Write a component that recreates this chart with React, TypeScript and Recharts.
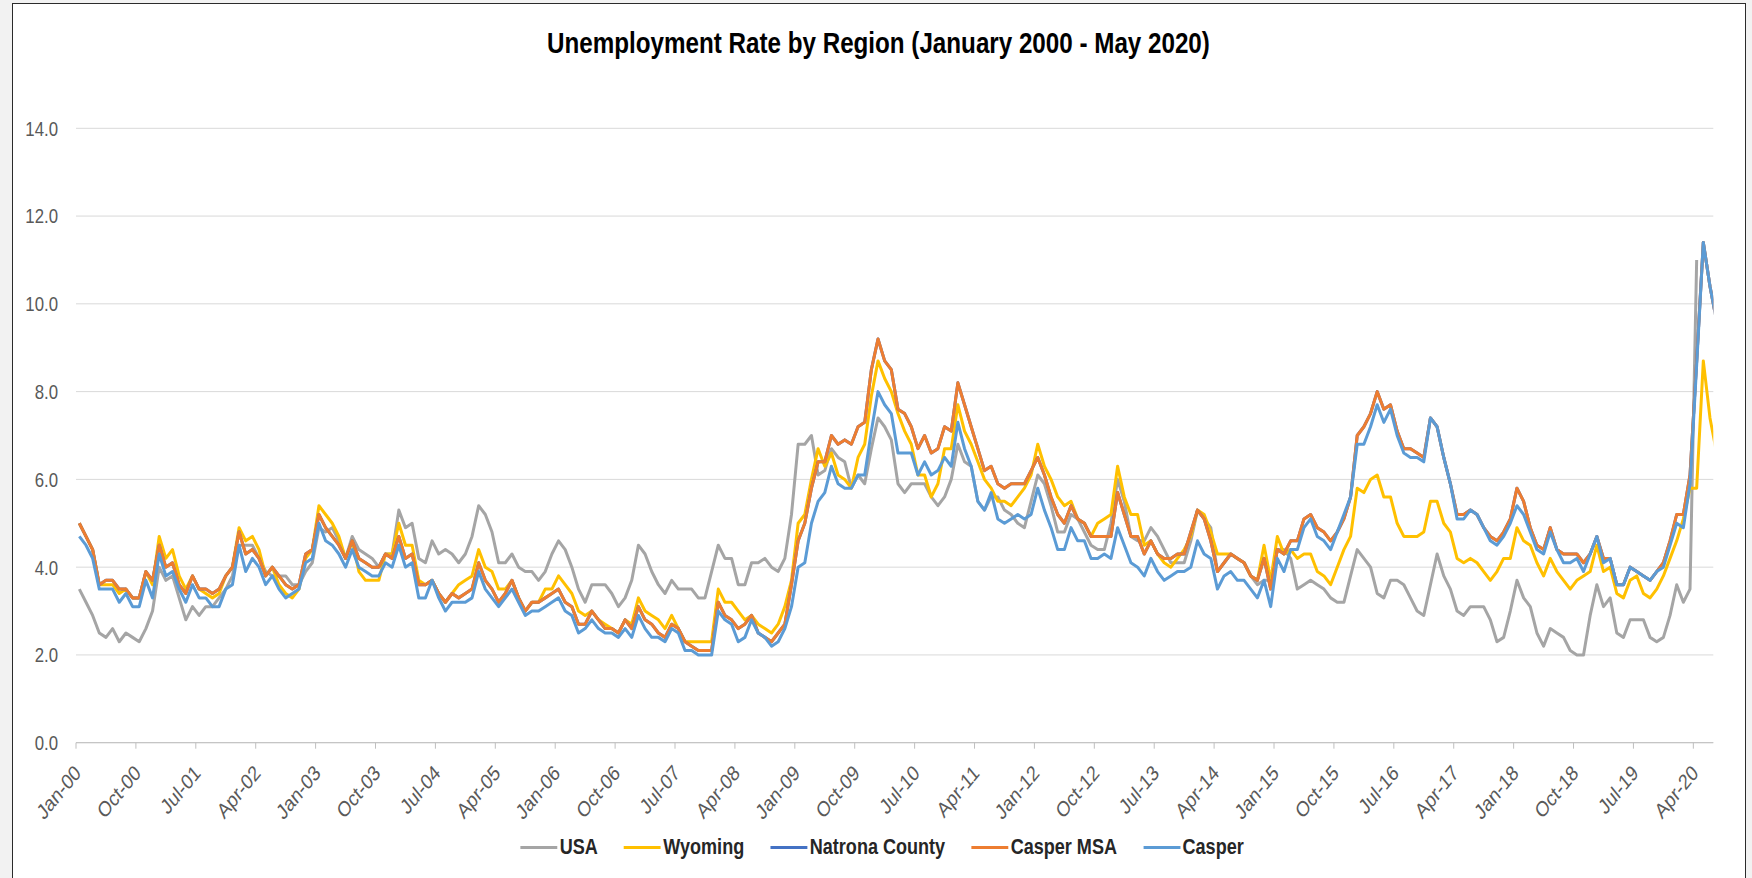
import React from 'react';
import { LineChart, Line, XAxis, YAxis, CartesianGrid, Legend } from 'recharts';

// ---- data (Jan-2000 onward, one value per month) ----
const usa: (number | null)[] = [
  3.5, 3.2, 2.9, 2.5, 2.4, 2.6, 2.3, 2.5, 2.4, 2.3, 2.6, 3.0,
  4.0, 3.7, 3.8, 3.3, 2.8, 3.1, 2.9, 3.1, 3.1, 3.3, 3.5, 3.8,
  4.5, 4.5, 4.5, 4.2, 3.9, 3.8, 3.8, 3.8, 3.6, 3.6, 3.9, 4.1,
  4.9, 4.8, 4.9, 4.6, 4.2, 4.7, 4.4, 4.3, 4.2, 4.0, 4.3, 4.3,
  5.3, 4.9, 5.0, 4.2, 4.1, 4.6, 4.3, 4.4, 4.3, 4.1, 4.3, 4.7,
  5.4, 5.2, 4.8, 4.1, 4.1, 4.3, 4.0, 3.9, 3.9, 3.7, 3.9, 4.3,
  4.6, 4.4, 4.0, 3.5, 3.2, 3.6, 3.6, 3.6, 3.4, 3.1, 3.3, 3.7,
  4.5, 4.3, 3.9, 3.6, 3.4, 3.7, 3.5, 3.5, 3.5, 3.3, 3.3, 3.9,
  4.5, 4.2, 4.2, 3.6, 3.6, 4.1, 4.1, 4.2, 4.0, 3.9, 4.2, 5.2,
  6.8, 6.8, 7.0, 6.1, 6.2, 6.7, 6.5, 6.4, 5.8, 6.1, 5.9, 6.7,
  7.4, 7.2, 6.9, 5.9, 5.7, 5.9, 5.9, 5.9, 5.6, 5.4, 5.6, 6.0,
  6.8, 6.4, 6.3, 5.5, 5.3, 5.6, 5.6, 5.3, 5.2, 5.0, 4.9, 5.5,
  6.1, 5.9, 5.4, 4.8, 4.8, 5.2, 5.1, 4.8, 4.5, 4.4, 4.4, 5.0,
  6.0, 5.5, 4.7, 4.6, 4.6, 4.9, 4.7, 4.4, 4.1, 4.1, 4.1, 4.6,
  5.3, 5.1, 4.9, 3.9, 4.1, 4.3, 4.2, 4.1, 3.8, 3.6, 3.7, 3.7,
  4.4, 4.4, 4.2, 3.5, 3.6, 3.7, 3.6, 3.5, 3.3, 3.2, 3.2, 3.8,
  4.4, 4.2, 4.0, 3.4, 3.3, 3.7, 3.7, 3.6, 3.3, 3.0, 2.9, 3.6,
  4.3, 3.8, 3.5, 3.0, 2.9, 3.1, 3.1, 3.1, 2.8, 2.3, 2.4, 3.0,
  3.7, 3.3, 3.1, 2.5, 2.2, 2.6, 2.5, 2.4, 2.1, 2.0, 2.0, 2.9,
  3.6, 3.1, 3.3, 2.5, 2.4, 2.8, 2.8, 2.8, 2.4, 2.3, 2.4, 2.9,
  3.6, 3.2, 3.5, 11.0, null, null, null,
];

const wyoming: number[] = [
  5.0, 4.7, 4.4, 3.6, 3.6, 3.6, 3.4, 3.5, 3.3, 3.3, 3.9, 3.6,
  4.7, 4.2, 4.4, 3.8, 3.5, 3.8, 3.5, 3.4, 3.3, 3.4, 3.8, 4.0,
  4.9, 4.6, 4.7, 4.4, 3.8, 4.0, 3.6, 3.4, 3.3, 3.5, 4.2, 4.4,
  5.4, 5.2, 5.0, 4.7, 4.2, 4.6, 3.9, 3.7, 3.7, 3.7, 4.3, 4.3,
  5.0, 4.5, 4.5, 3.7, 3.6, 3.7, 3.4, 3.2, 3.4, 3.6, 3.7, 3.8,
  4.4, 4.0, 3.9, 3.5, 3.5, 3.7, 3.3, 3.0, 3.2, 3.2, 3.5, 3.5,
  3.8, 3.6, 3.4, 3.0, 2.9, 3.0, 2.8, 2.7, 2.6, 2.5, 2.8, 2.7,
  3.3, 3.0, 2.9, 2.8, 2.6, 2.9, 2.6, 2.3, 2.3, 2.3, 2.3, 2.3,
  3.5, 3.2, 3.2, 3.0, 2.8, 2.9, 2.7, 2.6, 2.5, 2.7, 3.1, 3.7,
  5.0, 5.2, 6.0, 6.7, 6.3, 6.6, 6.1, 6.0, 5.8, 6.5, 6.8, 7.9,
  8.7, 8.3, 8.0, 7.5, 7.1, 6.8, 6.1, 6.1, 5.6, 5.9, 6.7, 6.7,
  7.7, 7.1, 6.8, 6.4, 6.0, 5.8, 5.5, 5.5, 5.4, 5.6, 5.8, 6.1,
  6.8, 6.3, 6.0, 5.6, 5.4, 5.5, 5.1, 5.0, 4.7, 5.0, 5.1, 5.2,
  6.3, 5.6, 5.2, 5.2, 4.5, 4.6, 4.3, 4.1, 4.0, 4.2, 4.4, 4.7,
  5.3, 5.2, 4.8, 4.3, 4.3, 4.3, 4.2, 4.1, 3.8, 3.7, 4.5, 3.7,
  4.7, 4.3, 4.4, 4.2, 4.3, 4.3, 3.9, 3.8, 3.6, 4.0, 4.4, 4.7,
  5.8, 5.7, 6.0, 6.1, 5.6, 5.6, 5.0, 4.7, 4.7, 4.7, 4.8, 5.5,
  5.5, 5.0, 4.8, 4.2, 4.1, 4.2, 4.1, 3.9, 3.7, 3.9, 4.2, 4.2,
  4.9, 4.6, 4.5, 4.1, 3.8, 4.2, 3.9, 3.7, 3.5, 3.7, 3.8, 3.9,
  4.5, 3.9, 4.0, 3.4, 3.3, 3.7, 3.8, 3.4, 3.3, 3.5, 3.8, 4.2,
  4.6, 5.1, 5.8, 5.8, 8.7, 7.4, 6.6,
];

const casperMSA: number[] = [
  5.0, 4.7, 4.4, 3.6, 3.7, 3.7, 3.5, 3.5, 3.3, 3.3, 3.9, 3.7,
  4.5, 4.0, 4.1, 3.6, 3.4, 3.8, 3.5, 3.5, 3.4, 3.5, 3.8, 4.0,
  4.8, 4.3, 4.4, 4.2, 3.8, 4.0, 3.8, 3.6, 3.5, 3.6, 4.3, 4.4,
  5.2, 4.9, 4.7, 4.5, 4.2, 4.6, 4.2, 4.1, 4.0, 4.0, 4.3, 4.2,
  4.7, 4.2, 4.3, 3.6, 3.6, 3.7, 3.4, 3.2, 3.4, 3.3, 3.4, 3.5,
  4.1, 3.7, 3.5, 3.2, 3.4, 3.7, 3.3, 3.0, 3.2, 3.2, 3.3, 3.4,
  3.5, 3.2, 3.1, 2.7, 2.7, 3.0, 2.8, 2.6, 2.6, 2.5, 2.8, 2.6,
  3.1, 2.8, 2.7, 2.5, 2.4, 2.7, 2.6, 2.3, 2.2, 2.1, 2.1, 2.1,
  3.2, 2.9, 2.8, 2.6, 2.7, 2.9, 2.5, 2.4, 2.3, 2.5, 2.7, 3.6,
  4.6, 5.0, 5.8, 6.4, 6.4, 7.0, 6.8, 6.9, 6.8, 7.2, 7.3, 8.5,
  9.2, 8.7, 8.5, 7.6, 7.5, 7.2, 6.7, 7.0, 6.6, 6.7, 7.2, 7.1,
  8.2, 7.7, 7.2, 6.7, 6.2, 6.3, 5.9, 5.8, 5.9, 5.9, 5.9, 6.2,
  6.5, 6.1, 5.6, 5.2, 5.0, 5.4, 5.1, 5.0, 4.7, 4.7, 4.7, 4.7,
  5.7, 5.2, 4.7, 4.7, 4.3, 4.6, 4.3, 4.2, 4.2, 4.3, 4.3, 4.8,
  5.3, 5.1, 4.6, 3.9, 4.1, 4.3, 4.2, 4.1, 3.8, 3.7, 4.2, 3.5,
  4.4, 4.3, 4.6, 4.6, 5.1, 5.2, 4.9, 4.8, 4.6, 4.8, 5.1, 5.6,
  7.0, 7.2, 7.5, 8.0, 7.6, 7.7, 7.1, 6.7, 6.7, 6.6, 6.5, 7.4,
  7.2, 6.5, 5.9, 5.2, 5.2, 5.3, 5.2, 4.9, 4.7, 4.6, 4.8, 5.1,
  5.8, 5.5, 4.9, 4.5, 4.4, 4.9, 4.4, 4.3, 4.3, 4.3, 4.1, 4.3,
  4.7, 4.2, 4.2, 3.6, 3.6, 4.0, 3.9, 3.8, 3.7, 3.9, 4.1, 4.6,
  5.2, 5.2, 6.1, 8.7, 11.4, 10.4, 9.6,
];

// Natrona County and the Casper MSA cover the same area: identical rates
const natronaCounty: number[] = [...casperMSA];

const casper: number[] = [
  4.7, 4.5, 4.2, 3.5, 3.5, 3.5, 3.2, 3.4, 3.1, 3.1, 3.7, 3.3,
  4.3, 3.8, 3.9, 3.5, 3.2, 3.6, 3.3, 3.3, 3.1, 3.1, 3.5, 3.6,
  4.5, 3.9, 4.2, 4.0, 3.6, 3.8, 3.5, 3.3, 3.4, 3.5, 4.1, 4.2,
  5.0, 4.6, 4.5, 4.3, 4.0, 4.4, 4.0, 3.9, 3.8, 3.8, 4.1, 4.0,
  4.5, 4.0, 4.1, 3.3, 3.3, 3.7, 3.3, 3.0, 3.2, 3.2, 3.2, 3.3,
  3.9, 3.5, 3.3, 3.1, 3.3, 3.5, 3.2, 2.9, 3.0, 3.0, 3.1, 3.2,
  3.3, 3.0, 2.9, 2.5, 2.6, 2.8, 2.6, 2.5, 2.5, 2.4, 2.6, 2.4,
  2.9, 2.6, 2.4, 2.4, 2.3, 2.6, 2.5, 2.1, 2.1, 2.0, 2.0, 2.0,
  3.0, 2.8, 2.7, 2.3, 2.4, 2.8, 2.5, 2.4, 2.2, 2.3, 2.6, 3.1,
  4.0, 4.1, 5.0, 5.5, 5.7, 6.3, 5.9, 5.8, 5.8, 6.1, 6.1, 7.1,
  8.0, 7.7, 7.5, 6.6, 6.6, 6.6, 6.1, 6.4, 6.1, 6.2, 6.5, 6.3,
  7.3, 6.7, 6.3, 5.5, 5.3, 5.7, 5.1, 5.0, 5.1, 5.2, 5.1, 5.2,
  5.8, 5.3, 4.9, 4.4, 4.4, 4.9, 4.6, 4.6, 4.2, 4.2, 4.3, 4.2,
  4.9, 4.5, 4.1, 4.0, 3.8, 4.2, 3.9, 3.7, 3.8, 3.9, 3.9, 4.0,
  4.6, 4.3, 4.2, 3.5, 3.8, 3.9, 3.7, 3.7, 3.5, 3.3, 3.7, 3.1,
  4.2, 3.9, 4.4, 4.4, 4.9, 5.1, 4.7, 4.6, 4.4, 4.8, 5.2, 5.6,
  6.8, 6.8, 7.2, 7.7, 7.3, 7.6, 7.0, 6.6, 6.5, 6.5, 6.4, 7.4,
  7.2, 6.5, 5.9, 5.1, 5.1, 5.3, 5.2, 4.9, 4.6, 4.5, 4.7, 5.0,
  5.4, 5.2, 4.8, 4.4, 4.3, 4.8, 4.4, 4.1, 4.1, 4.2, 3.9, 4.3,
  4.7, 4.1, 4.2, 3.6, 3.6, 4.0, 3.9, 3.8, 3.7, 3.9, 4.0, 4.5,
  5.0, 4.9, 5.9, 8.6, 11.4, 10.4, 9.6,
];

const monthNames = ['Jan', 'Feb', 'Mar', 'Apr', 'May', 'Jun', 'Jul', 'Aug', 'Sep', 'Oct', 'Nov', 'Dec'];
const firstYear = 2000;

const tickLabels = [
  'Jan-00', 'Oct-00', 'Jul-01', 'Apr-02', 'Jan-03', 'Oct-03', 'Jul-04', 'Apr-05',
  'Jan-06', 'Oct-06', 'Jul-07', 'Apr-08', 'Jan-09', 'Oct-09', 'Jul-10', 'Apr-11',
  'Jan-12', 'Oct-12', 'Jul-13', 'Apr-14', 'Jan-15', 'Oct-15', 'Jul-16', 'Apr-17',
  'Jan-18', 'Oct-18', 'Jul-19', 'Apr-20',
];
const LABEL_STEP = 9; // one label every 9 months
const yTicks = [0, 2, 4, 6, 8, 10, 12, 14];
const VISIBLE_MONTHS = 246; // axis shows Jan-00 .. Jun-20

const series = [
  { key: 'usa', name: 'USA', color: '#A5A5A5', values: usa },
  { key: 'wyoming', name: 'Wyoming', color: '#FFC000', values: wyoming },
  { key: 'natrona', name: 'Natrona County', color: '#4472C4', values: natronaCounty },
  { key: 'casperMSA', name: 'Casper MSA', color: '#ED7D31', values: casperMSA },
  { key: 'casper', name: 'Casper', color: '#5B9BD5', values: casper },
];

const data = casper.map((_, i) => {
  const row: Record<string, number | string | null> = {
    idx: i,
    month: `${monthNames[i % 12]}-${String((firstYear + Math.floor(i / 12)) % 100).padStart(2, '0')}`,
  };
  series.forEach((s) => {
    row[s.key] = s.values[i] ?? null;
  });
  return row;
});

const xTicks = tickLabels.map((_, k) => k * LABEL_STEP - 0.5);

const FONT = "'Liberation Sans', Arial, Helvetica, sans-serif";
const SQUISH = 0.82;

const XTick = (props: any) => {
  const { x, y, payload } = props;
  const k = Math.round((payload.value + 0.5) / LABEL_STEP);
  return (
    <text
      transform={`translate(${x + 6},${y + 23.5}) scale(${SQUISH},1) rotate(-45)`}
      textAnchor="end"
      fontFamily={FONT}
      fontSize={21.5}
      fill="#595959"
    >
      {tickLabels[k]}
    </text>
  );
};

const YTick = (props: any) => {
  const { x, y, payload } = props;
  return (
    <text
      transform={`translate(${x},${y}) scale(${SQUISH},1)`}
      textAnchor="end"
      dy="0.36em"
      fontFamily={FONT}
      fontSize={20.5}
      fill="#595959"
    >
      {Number(payload.value).toFixed(1)}
    </text>
  );
};

const LegendContent = () => (
  <div
    style={{
      display: 'flex',
      justifyContent: 'center',
      alignItems: 'center',
      transform: `scaleX(${SQUISH})`,
      transformOrigin: '50% 50%',
      whiteSpace: 'nowrap',
    }}
  >
    {series.map((s, i) => (
      <div
        key={s.key}
        style={{ display: 'flex', alignItems: 'center', marginRight: i < series.length - 1 ? 32 : 0 }}
      >
        <span style={{ display: 'inline-block', width: 45, height: 3, background: s.color }} />
        <span
          style={{
            marginLeft: 3,
            fontFamily: FONT,
            fontWeight: 700,
            fontSize: 22,
            lineHeight: '22px',
            color: '#262626',
          }}
        >
          {s.name}
        </span>
      </div>
    ))}
  </div>
);

export default function App() {
  return (
    <div
      style={{
        position: 'absolute',
        left: 0,
        top: 0,
        width: 1752,
        height: 878,
        background: '#f2f2f2',
        overflow: 'hidden',
      }}
    >
      <div
        style={{
          position: 'absolute',
          left: 12,
          top: 3,
          width: 1734,
          height: 900,
          boxSizing: 'border-box',
          background: '#ffffff',
          border: '1.5px solid #2b2b2b',
        }}
      />
      <div
        style={{
          position: 'absolute',
          left: 0,
          top: 28,
          width: 1757,
          textAlign: 'center',
          fontFamily: FONT,
          fontWeight: 700,
          fontSize: 29.5,
          lineHeight: '29.5px',
          color: '#000',
          transform: `scaleX(${SQUISH})`,
          transformOrigin: '878.5px 0',
          whiteSpace: 'nowrap',
        }}
      >
        Unemployment Rate by Region (January 2000 - May 2020)
      </div>
      <div style={{ position: 'absolute', left: 0, top: 0 }}>
        <LineChart
          width={1752}
          height={878}
          data={data}
          margin={{ top: 128.3, right: 38.7, bottom: 75.3, left: 16 }}
        >
          <CartesianGrid vertical={false} stroke="#d9d9d9" strokeWidth={1} />
          <XAxis
            type="number"
            dataKey="idx"
            domain={[-0.5, VISIBLE_MONTHS - 0.5]}
            allowDataOverflow
            ticks={xTicks}
            interval={0}
            tick={(p: any) => <XTick {...p} />}
            tickSize={6}
            tickLine={{ stroke: '#bfbfbf' }}
            axisLine={{ stroke: '#bfbfbf' }}
            height={60}
          />
          <YAxis
            type="number"
            domain={[0, 14]}
            ticks={yTicks}
            interval={0}
            axisLine={false}
            tickLine={false}
            tickSize={0}
            tickMargin={18}
            width={60}
            tick={(p: any) => <YTick {...p} />}
          />
          <Legend
            layout="horizontal"
            verticalAlign="middle"
            align="center"
            wrapperStyle={{ left: 0, top: 836, width: 1764, height: 24 }}
            content={() => <LegendContent />}
          />
          {series.map((s) => (
            <Line
              key={s.key}
              type="linear"
              dataKey={s.key}
              name={s.name}
              stroke={s.color}
              strokeWidth={3}
              strokeLinejoin="round"
              dot={false}
              activeDot={false}
              connectNulls={false}
              isAnimationActive={false}
            />
          ))}
        </LineChart>
      </div>
    </div>
  );
}
